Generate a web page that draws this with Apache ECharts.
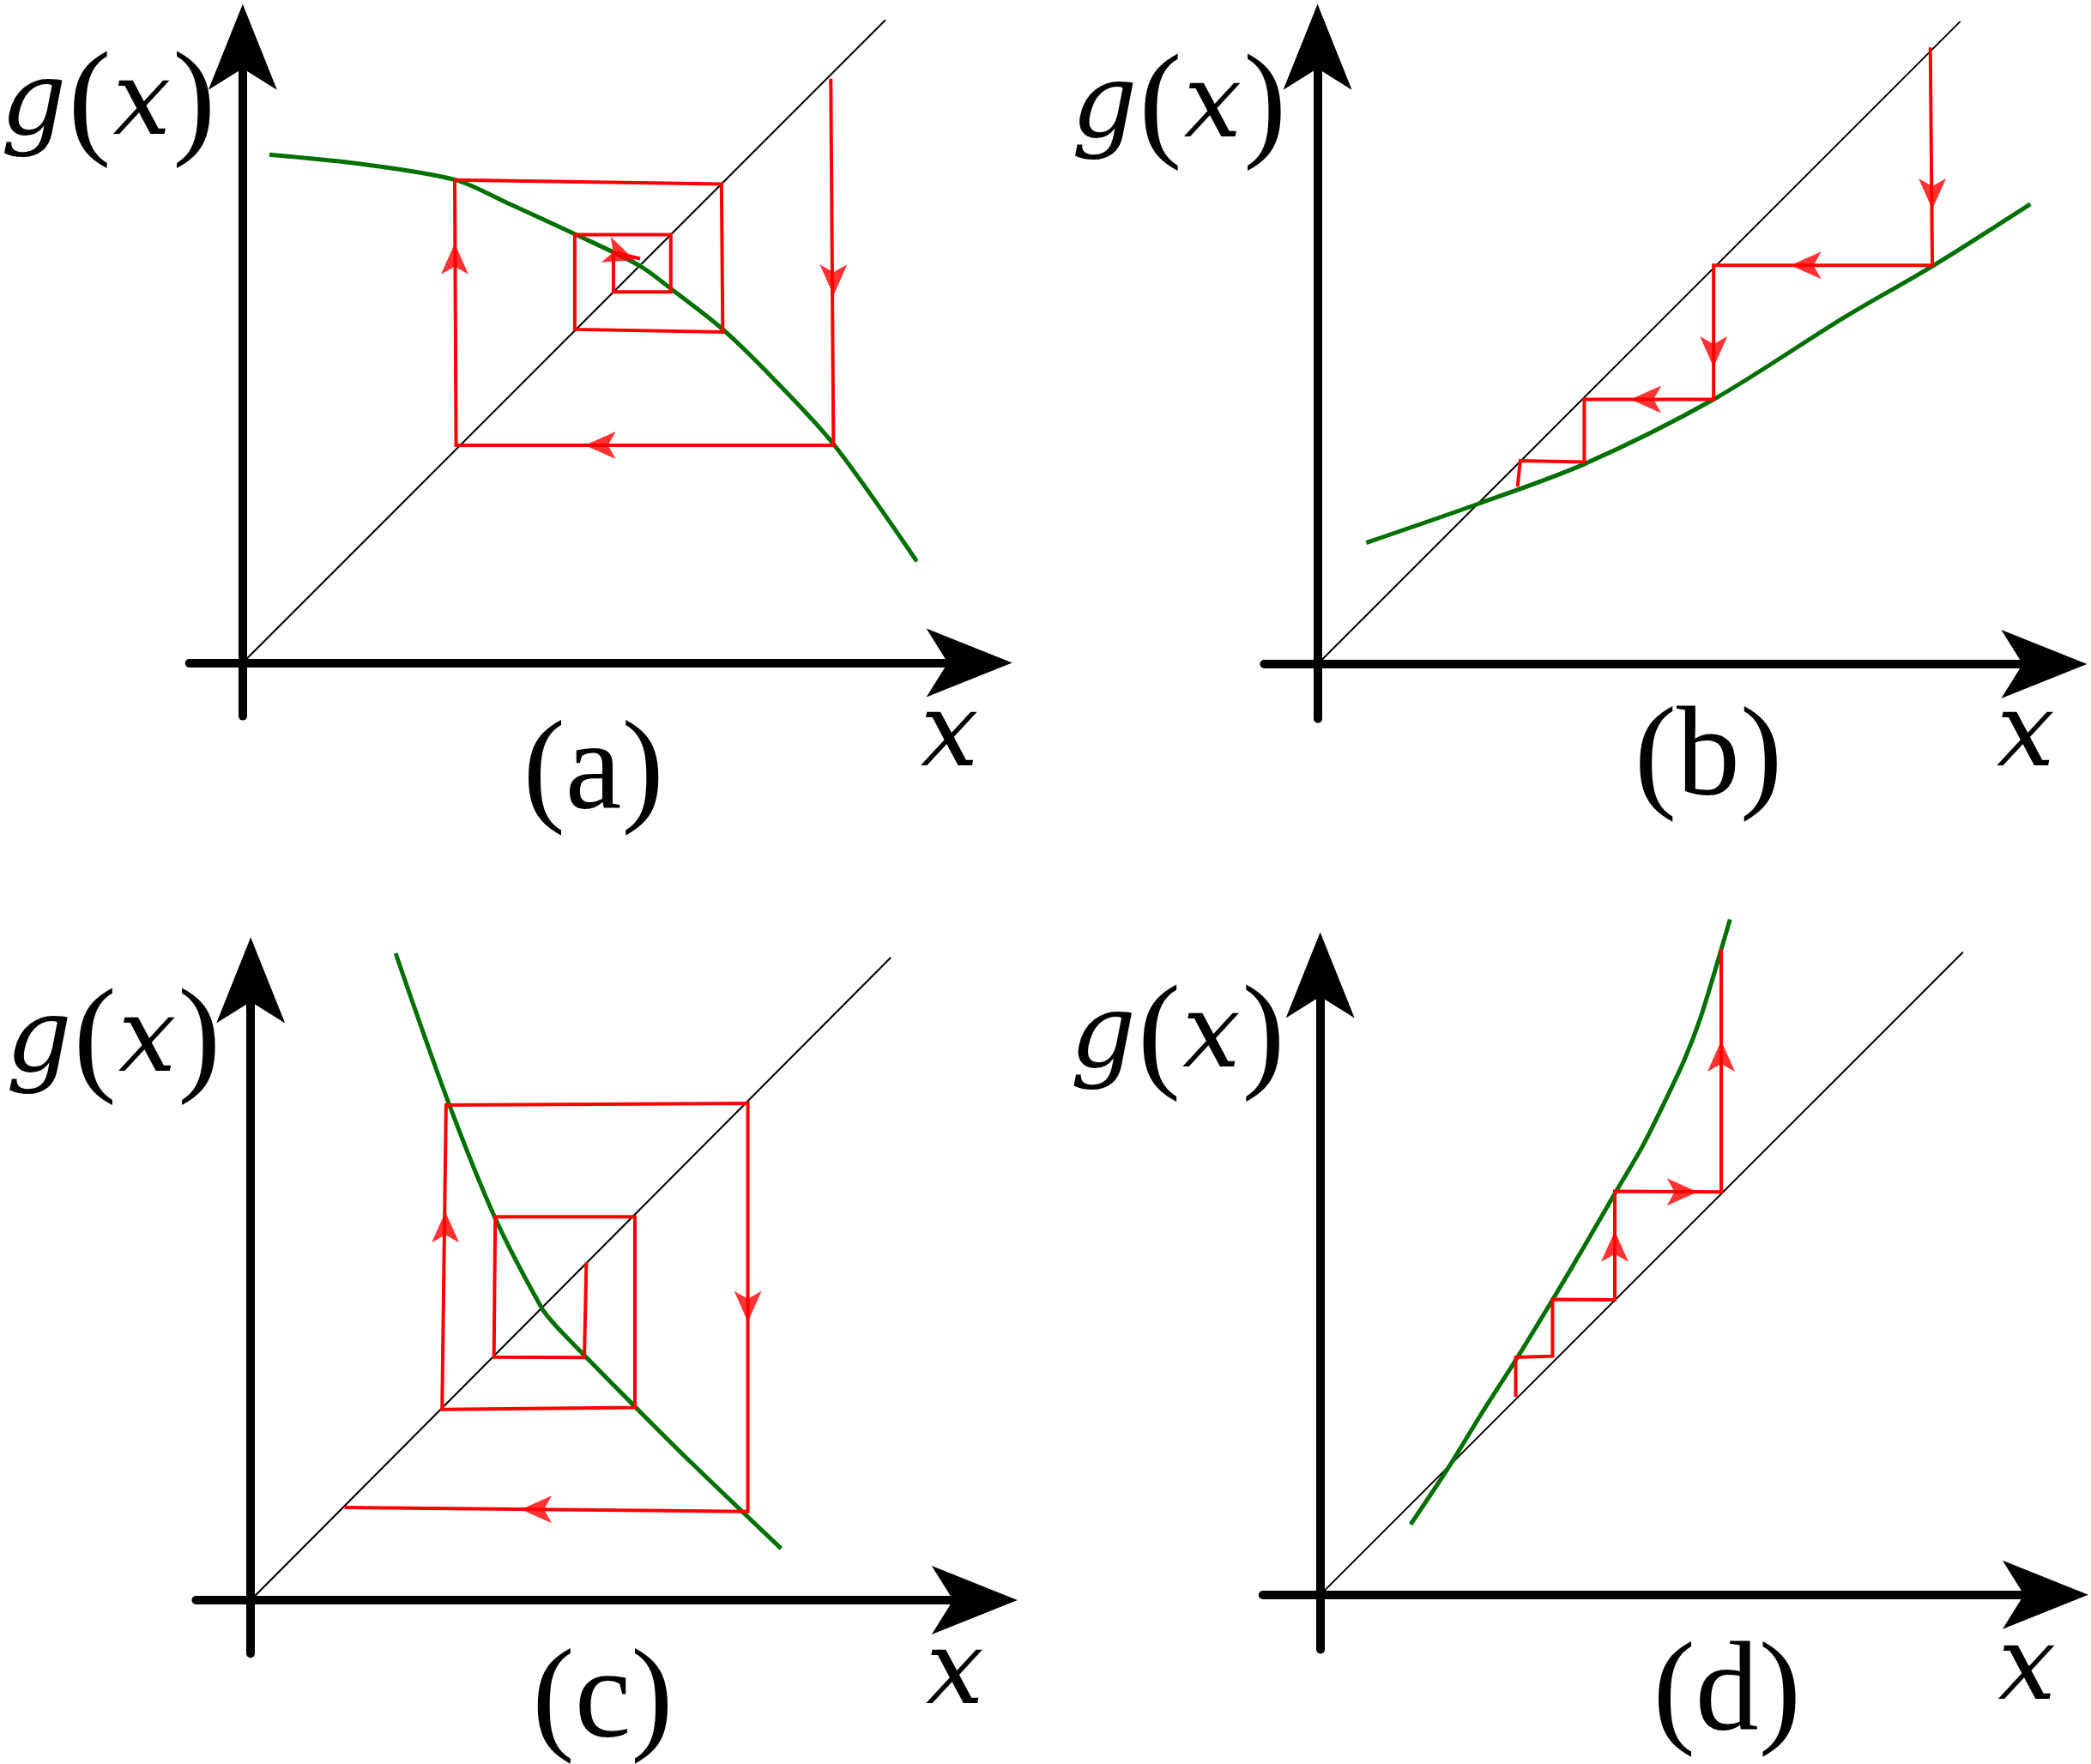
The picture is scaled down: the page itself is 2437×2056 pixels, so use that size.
<!DOCTYPE html>
<html>
<head>
<meta charset="utf-8">
<script src="https://cdn.jsdelivr.net/npm/echarts@6/dist/echarts.min.js"></script>
<style>
html, body { margin: 0; padding: 0; background: #fff; }
#main { width: 2437px; height: 2056px; }
</style>
</head>
<body>
<div id="main"></div>
<script>

// (a) g decreasing, cobweb spiralling in
var diagA = [[0, 0], [482, 482]];
var curveA = [[20, 381], [93, 373.5], [160, 362], [198, 345], [250, 321], [298, 297.5], [323, 279], [360, 250], [398, 213], [443, 164], [505.5, 76]];
var webA = [[441, 438], [443, 163], [160, 163], [159, 362], [359, 359], [360, 248], [249, 250], [249, 321], [321, 321], [321, 278], [278, 278], [278, 308], [298, 303]];
// arrow tips: x, y, heading (deg, 0 = right, 90 = up)
var arrowsA = [[443, 264, 270], [245, 163, 180], [159, 326, 90], [305, 298, -20]];

// (b) g flatter than the diagonal, staircase going down
var diagB = [[0, 0], [482, 482]];
var curveB = [[36.5, 91], [120, 120], [200, 150], [297, 198.5], [395, 260], [462, 299], [534.5, 345]];
var webB = [[459.5, 462.5], [461, 299], [297, 299], [297, 198.5], [200, 198.5], [200, 151.5], [152, 152.5], [150, 133]];
var arrowsB = [[461, 329.5, 270], [343, 299, 180], [297, 211, 270], [223, 198.5, 180]];

// (c) g steeply decreasing, cobweb spiralling out
var diagC = [[0, 0], [480, 482]];
var curveC = [[108.7, 485], [148.5, 372.6], [183.4, 286.3], [218.3, 218.9], [228.3, 206.3], [250.7, 183.1], [288.1, 145.2], [330.4, 103.1], [397.7, 38.7]];
var webC = [[251.7, 253.4], [250.2, 181.9], [182.4, 182.3], [183.4, 287.5], [288.1, 287.5], [288.1, 144.4], [143.5, 143.1], [146.5, 371.3], [372.8, 372.6], [372.8, 66.5], [70.3, 69.5]];
var arrowsC = [[146, 303, 90], [372.8, 197, 270], [191, 68, 180]];

// (d) g steeper than the diagonal, staircase going up
var diagD = [[0, 0], [482, 482]];
var curveD = [[67.8, 52.8], [96.4, 95.8], [121, 136], [146.6, 176], [174.2, 221.2], [199, 263], [221.9, 302.6], [242, 337], [259.6, 372.3], [273, 401], [284.7, 431.4], [296, 468], [307.3, 506.5]];
var webD = [[146.6, 148.6], [146.6, 178.1], [174.2, 179], [174.2, 221.6], [220.9, 221.2], [220.9, 302.6], [300.7, 302.2], [300.7, 484.2]];
var arrowsD = [[220.9, 284.5, 90], [294.7, 302.2, 0], [300.7, 427.2, 90]];

var panelNames = ['(a)', '(b)', '(c)', '(d)'];

// layout, in picture units (picture is 1568 wide)
var K = 2437 / 1568;
var AXIS_HEAD = [60, 100];   // px, width x length of the axis arrow heads
var HEAD_PUSH = 16;          // px the axis line stops short of the arrow tip
var RED_HEAD = [24, 36];     // px
var SERIF = 'Liberation Serif';
var ITALIC = 'DejaVu Serif'; // italic faces fall back to a sans above ~120px, so keep them at 120
var panels = [
    { o: [182, 497], x: [-40, 577], y: [-40, 494], diag: diagA, curve: curveA, web: webA, arrows: arrowsA,
      gx: [81, 80], xl: [712, 554], lab: [445, 581] },
    { o: [988, 498], x: [-40, 577], y: [-41, 495], diag: diagB, curve: curveB, web: webB, arrows: arrowsB,
      gx: [884, 82], xl: [1519, 554], lab: [1281, 571] },
    { o: [188, 1200], x: [-41, 575], y: [-40, 497], diag: diagC, curve: curveC, web: webC, arrows: arrowsC,
      gx: [85, 783], xl: [716, 1257], lab: [452, 1277] },
    { o: [990, 1196], x: [-43, 576], y: [-41, 497], diag: diagD, curve: curveD, web: webD, arrows: arrowsD,
      gx: [883, 780], xl: [1520, 1254], lab: [1295, 1272] }
];

var grids = [], xAxes = [], yAxes = [], series = [], graphics = [];
var push = HEAD_PUSH / K;

function label(pos, style) {
    return {
        type: 'text', x: pos[0] * K, y: pos[1] * K, silent: true,
        style: Object.assign({ align: 'center', verticalAlign: 'middle', fill: '#000' }, style)
    };
}

panels.forEach(function (p, i) {
    var xmin = p.x[0], xmax = p.x[1] - push;
    var ymin = p.y[0], ymax = p.y[1] - push;
    grids.push({
        left: (p.o[0] + xmin) * K,
        top: (p.o[1] - ymax) * K,
        width: (xmax - xmin) * K,
        height: (ymax - ymin) * K
    });
    var axisCommon = {
        type: 'value',
        gridIndex: i,
        axisLine: {
            show: true, onZero: true,
            symbol: ['none', 'arrow'],
            symbolSize: AXIS_HEAD,
            symbolOffset: [0, HEAD_PUSH],
            lineStyle: { color: '#000', width: 10 }
        },
        axisTick: { show: false },
        axisLabel: { show: false },
        splitLine: { show: false }
    };
    xAxes.push(Object.assign({}, axisCommon, { min: xmin, max: xmax }));
    yAxes.push(Object.assign({}, axisCommon, { min: ymin, max: ymax }));

    series.push({
        type: 'line', xAxisIndex: i, yAxisIndex: i, data: p.diag,
        symbol: 'none', clip: false, silent: true, z: 1,
        lineStyle: { color: '#000', width: 2 }
    });
    series.push({
        type: 'line', xAxisIndex: i, yAxisIndex: i, data: p.curve,
        symbol: 'none', clip: false, silent: true, smooth: 0.3, z: 2,
        lineStyle: { color: '#007000', width: 5 }
    });
    series.push({
        type: 'line', xAxisIndex: i, yAxisIndex: i, data: p.web,
        symbol: 'none', clip: false, silent: true, z: 3,
        lineStyle: { color: '#ff0000', width: 4, join: 'miter' }
    });
    // arrow heads: symbol is centred on its point, so step back half a length from the tip
    var hl = RED_HEAD[1] / 2 / K;
    series.push({
        type: 'scatter', xAxisIndex: i, yAxisIndex: i, clip: false, silent: true, z: 4,
        symbol: 'arrow', symbolSize: RED_HEAD,
        itemStyle: { color: '#ff0000' },
        data: p.arrows.map(function (a) {
            var r = a[2] * Math.PI / 180;
            return {
                value: [a[0] - Math.cos(r) * hl, a[1] - Math.sin(r) * hl],
                symbolRotate: a[2] - 90
            };
        })
    });

    graphics.push(label(p.gx, {
        text: '{i|g}{u|(}{i|x}{u|)}',
        rich: {
            i: { fontFamily: ITALIC, fontStyle: 'italic', fontSize: 120, padding: [0, 1] },
            u: { fontFamily: SERIF, fontStyle: 'normal', fontSize: 150, padding: [0, 1] }
        }
    }));
    graphics.push(label(p.xl, { text: 'x', fontFamily: ITALIC, fontStyle: 'italic', fontSize: 120 }));
    graphics.push(label(p.lab, { text: panelNames[i], fontFamily: SERIF, fontSize: 148 }));
});

var myChart = echarts.init(document.getElementById('main'));
var option = {
    animation: false,
    backgroundColor: '#fff',
    grid: grids,
    xAxis: xAxes,
    yAxis: yAxes,
    series: series,
    graphic: graphics
};
myChart.setOption(option);
</script>
</body>
</html>
